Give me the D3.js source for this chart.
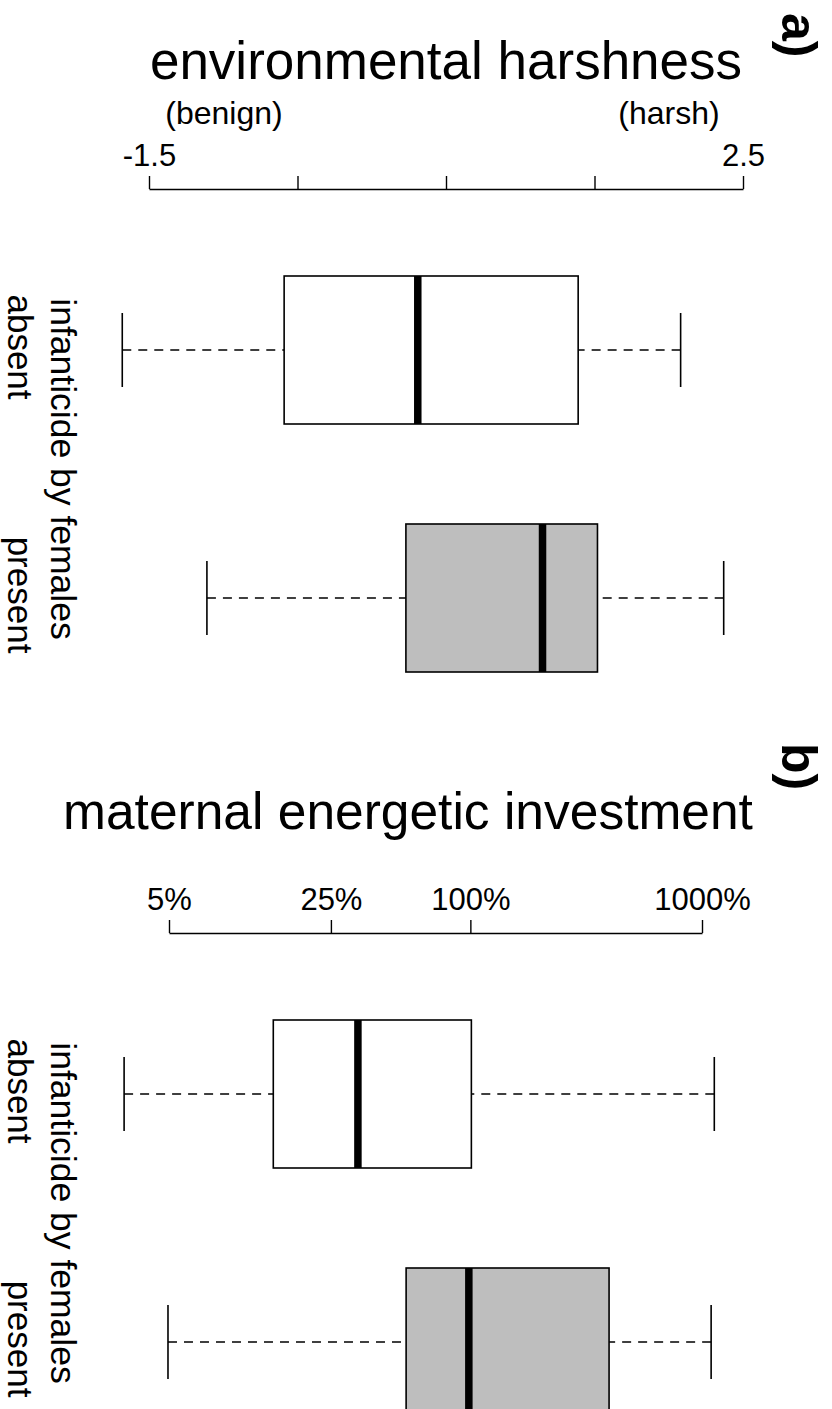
<!DOCTYPE html>
<html>
<head>
<meta charset="utf-8">
<script src="https://cdn.jsdelivr.net/npm/d3@7"></script>
<style>
  html, body { margin: 0; padding: 0; background: #fff; }
  svg { display: block; }
  text { font-family: "Liberation Sans", Arial, Helvetica, sans-serif; fill: #000; }
</style>
</head>
<body>
<svg id="chart" width="832" height="1409"></svg>
<script>
// ---- data ----
const groups = ["absent", "present"];
const groupFills = ["#ffffff", "#bebebe"];
// [lower whisker, Q1, median, Q3, upper whisker]
const harshAbsent  = [-1.68, -0.59, 0.31, 1.39, 2.08];
const harshPresent = [-1.11, 0.23, 1.15, 1.52, 2.37];
const investAbsent  = [3.2, 14.1, 32.7, 101, 1130];
const investPresent = [4.95, 52.8, 98.5, 397, 1095];
const harshTicks = [-1.5, -0.5, 0.5, 1.5, 2.5];
const harshTickLabels = ["-1.5", "", "", "", "2.5"];
const investTicks = [5, 25, 100, 1000];
const investTickLabels = ["5%", "25%", "100%", "1000%"];
const titles = ["environmental harshness", "maternal energetic investment"];
const panelLetters = ["a)", "b)"];
const ends = ["(benign)", "(harsh)"];
const yLabel = "infanticide by females";

const svg = d3.select("#chart");
svg.append("rect").attr("width", 832).attr("height", 1409).attr("fill", "#fff");

function panel(cfg) {
  const g = svg.append("g");
  const x = cfg.x;
  const y = d3.scalePoint().domain(groups).range(cfg.yRange);
  const boxH = 148, capH = 74;

  // title
  g.append("text").attr("x", cfg.titleX).attr("y", cfg.titleY)
    .attr("text-anchor", "middle").attr("font-size", cfg.titleSize).text(cfg.title);

  // panel letter
  g.append("text").attr("transform", `translate(782,${cfg.letterY}) rotate(90)`)
    .attr("font-size", 50).attr("font-weight", "bold").text(cfg.letter);

  // axis
  const axis = d3.axisTop(x).tickValues(cfg.ticks)
    .tickFormat((d, i) => cfg.tickLabels[i])
    .tickSizeInner(13).tickSizeOuter(0).tickPadding(10);
  const ag = g.append("g").attr("transform", `translate(0,${cfg.axisY})`).call(axis);
  ag.selectAll("path.domain").attr("stroke", "#000").attr("stroke-width", 1.4);
  ag.selectAll(".tick line").attr("stroke", "#000").attr("stroke-width", 1.4);
  ag.selectAll(".tick text").attr("font-size", 31).attr("fill", "#000")
    .attr("font-family", '"Liberation Sans", Arial, Helvetica, sans-serif');

  if (cfg.ends) {
    g.append("text").attr("x", x(cfg.ticks[0]) + 75).attr("y", cfg.axisY - 65)
      .attr("text-anchor", "middle").attr("font-size", 32).text(cfg.ends[0]);
    g.append("text").attr("x", x(cfg.ticks[cfg.ticks.length - 1]) - 74).attr("y", cfg.axisY - 65)
      .attr("text-anchor", "middle").attr("font-size", 32).text(cfg.ends[1]);
  }

  // boxes
  cfg.stats.forEach((s, i) => {
    const cy = y(groups[i]);
    const bg = g.append("g");
    // whiskers (drawn from whisker end toward the box, as R does)
    bg.append("line").attr("x1", x(s[0])).attr("x2", x(s[1])).attr("y1", cy).attr("y2", cy)
      .attr("stroke", "#000").attr("stroke-width", 1.5).attr("stroke-dasharray", "9,7");
    bg.append("line").attr("x1", x(s[4])).attr("x2", x(s[3])).attr("y1", cy).attr("y2", cy)
      .attr("stroke", "#000").attr("stroke-width", 1.5).attr("stroke-dasharray", "9,7");
    // caps
    [s[0], s[4]].forEach(v => {
      bg.append("line").attr("x1", x(v)).attr("x2", x(v))
        .attr("y1", cy - capH / 2).attr("y2", cy + capH / 2)
        .attr("stroke", "#000").attr("stroke-width", 1.6);
    });
    // box
    bg.append("rect").attr("x", x(s[1])).attr("width", x(s[3]) - x(s[1]))
      .attr("y", cy - boxH / 2).attr("height", boxH)
      .attr("fill", groupFills[i]).attr("stroke", "#000").attr("stroke-width", 1.6);
    // median
    bg.append("line").attr("x1", x(s[2])).attr("x2", x(s[2]))
      .attr("y1", cy - boxH / 2).attr("y2", cy + boxH / 2)
      .attr("stroke", "#000").attr("stroke-width", 7.5);

    // group label
    g.append("text").attr("transform", `translate(8,${cy - 3}) rotate(90)`)
      .attr("text-anchor", "middle").attr("font-size", 35).text(groups[i]);
  });

  // y label
  const mid = (cfg.yRange[0] + cfg.yRange[1]) / 2;
  g.append("text").attr("transform", `translate(51,${mid - 5}) rotate(90)`)
    .attr("text-anchor", "middle").attr("font-size", 35.5).text(yLabel);
}

panel({
  x: d3.scaleLinear().domain([-1.5, 2.5]).range([149, 743]),
  yRange: [350, 598],
  axisY: 189, titleX: 446, titleY: 79, titleSize: 53, letterY: 13,
  title: titles[0], letter: panelLetters[0],
  ticks: harshTicks, tickLabels: harshTickLabels, ends: ends,
  stats: [harshAbsent, harshPresent]
});

panel({
  x: d3.scaleLog().domain([5, 1000]).range([169, 702]),
  yRange: [1094, 1342],
  axisY: 933, titleX: 408, titleY: 829, titleSize: 51.5, letterY: 743,
  title: titles[1], letter: panelLetters[1],
  ticks: investTicks, tickLabels: investTickLabels, ends: null,
  stats: [investAbsent, investPresent]
});
</script>
</body>
</html>
